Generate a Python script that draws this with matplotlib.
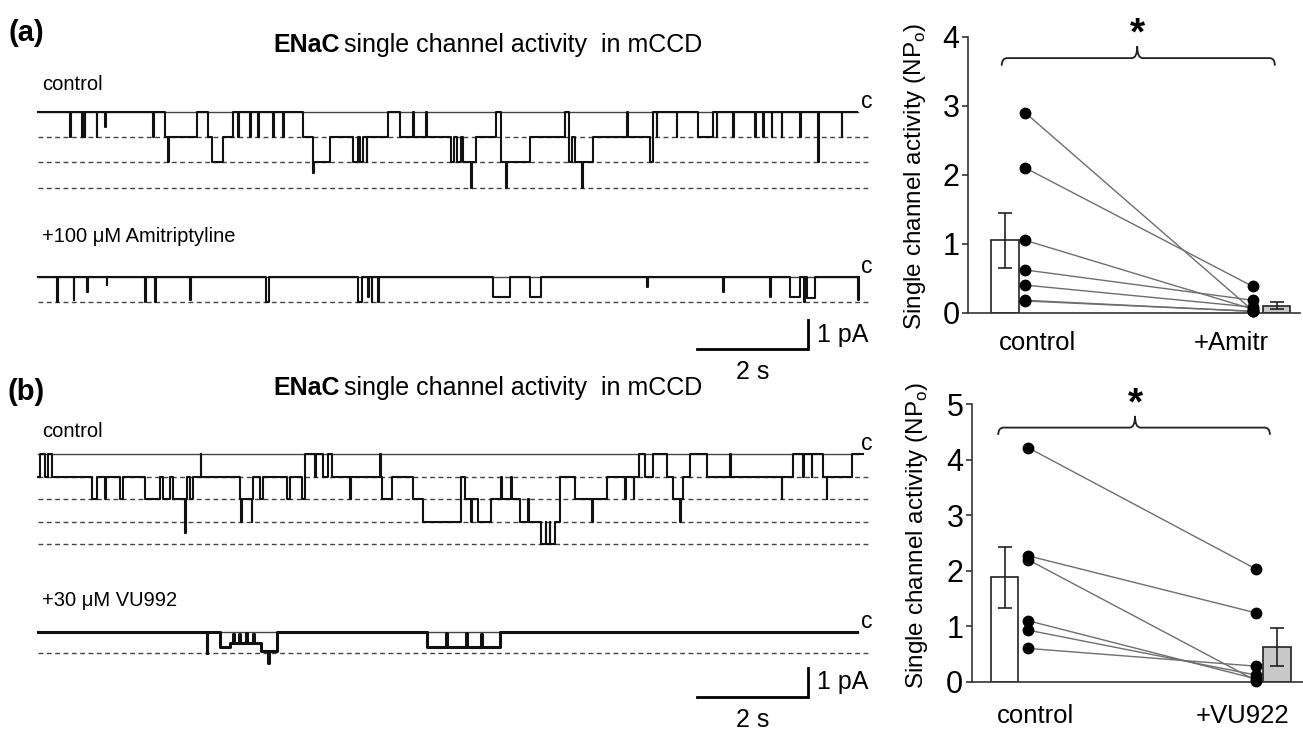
import matplotlib
matplotlib.use("Agg")
import matplotlib.pyplot as plt
import numpy as np
from matplotlib.path import Path
from matplotlib.patches import PathPatch

plt.rcParams["font.family"] = ["Liberation Sans", "DejaVu Sans"]

W, H = 1303, 733

# ---------------- data ----------------
# single-channel traces: step changes (time s, open level) and brief openings (time s, level)
a_ctrl_steps = [
    (0.00, 0), (2.29, 1), (2.86, 0), (3.07, 1), (3.13, 2), (3.34, 1), (3.52, 0),
    (4.78, 1), (4.96, 2), (5.26, 1), (5.68, 2), (5.77, 1), (5.81, 2), (5.86, 1),
    (6.31, 0), (6.52, 1), (7.45, 2), (7.50, 1), (7.55, 2), (7.62, 1), (7.66, 2),
    (7.90, 1), (8.26, 0), (8.35, 2), (8.86, 1), (9.50, 0), (9.56, 2), (9.62, 1),
    (9.68, 2), (10.00, 1), (11.03, 2), (11.09, 0), (11.90, 1), (12.17, 0),
]
a_ctrl_flicks = [
    (0.58, 1), (0.79, 1), (0.84, 1), (1.06, 1), (1.21, 0.6), (2.07, 1),
    (2.35, 2), (3.61, 1), (3.82, 1), (3.97, 1), (4.24, 1), (4.42, 1),
    (4.96, 2.4), (5.92, 2), (6.76, 0), (6.99, 0), (7.81, 3), (8.44, 3),
    (9.80, 3), (10.61, 0), (11.15, 1), (11.51, 1), (12.23, 1), (12.53, 1),
    (12.92, 1), (13.07, 1), (13.22, 1), (13.40, 1), (13.73, 1), (14.06, 2),
    (14.48, 1),
]
a_ctrl_end = 14.75

a_amit_steps = [
    (0.00, 0), (4.10, 1), (4.16, 0), (5.77, 1), (5.83, 0), (8.20, 0.8),
    (8.50, 0), (8.86, 0.8), (9.07, 0), (13.55, 0.8), (13.73, 0),
    (13.85, 0.85), (14.00, 0),
]
a_amit_flicks = [
    (0.34, 1), (0.64, 0.9), (0.88, 0.6), (1.24, 0.3), (1.93, 1), (2.11, 1),
    (2.74, 0.9), (5.95, 0.8), (6.01, 1), (6.13, 1), (10.97, 0.4),
    (12.35, 0.6), (13.19, 0.8), (13.80, 1), (14.78, 0.9),
]
a_amit_end = 14.80

b_ctrl_steps = [
    (0.00, 1), (0.04, 0), (0.13, 1), (0.18, 0), (0.25, 1), (0.97, 2), (1.06, 1),
    (1.48, 2), (1.54, 1), (1.93, 2), (2.20, 1), (2.26, 2), (2.38, 1), (2.44, 2),
    (2.68, 1), (2.74, 2), (2.80, 1), (3.64, 2), (3.88, 1), (4.00, 2), (4.06, 1),
    (4.48, 2), (4.54, 1), (4.75, 2), (4.81, 0), (5.14, 1), (5.23, 0), (5.29, 1),
    (6.19, 2), (6.37, 1), (6.76, 2), (6.94, 3), (7.63, 1), (7.69, 2), (7.93, 3),
    (8.17, 2), (8.68, 3), (9.07, 4), (9.31, 3), (9.41, 1), (9.68, 2), (10.25, 1),
    (10.82, 0), (10.94, 1), (11.09, 0), (11.33, 1), (11.45, 2), (11.63, 1),
    (11.75, 0), (12.05, 1), (13.61, 0), (14.15, 1), (14.66, 0),
]
b_ctrl_flicks = [
    (1.21, 2), (2.65, 3.5), (2.93, 0), (3.66, 3), (3.85, 3), (4.99, 1),
    (5.62, 2), (6.16, 0), (7.81, 3), (8.35, 1), (8.53, 1), (8.83, 2),
    (9.15, 3), (9.22, 3), (9.98, 3), (10.58, 2), (10.73, 2), (11.57, 3),
    (12.47, 0), (13.40, 2), (13.79, 1), (13.94, 1), (14.21, 2),
]
b_ctrl_end = 14.87

b_vu_steps = [
    (0.00, 0), (3.28, 0.7), (3.46, 0.55), (4.02, 0.9), (4.30, 0),
    (7.00, 0.7), (8.32, 0),
]
b_vu_flicks = [
    (3.04, 1), (3.52, 0.1), (3.62, 0.1), (3.75, 0.05), (3.88, 0.1),
    (4.15, 1.5), (7.36, 0.05), (7.71, 0.05), (7.98, 0.1),
]
b_vu_end = 14.75

unit_a = 0.87   # pA per open channel
unit_b = 0.78

# paired NPo values
a_control = [2.9, 2.1, 1.05, 0.62, 0.40, 0.18, 0.17]
a_amitr = [0.03, 0.38, 0.05, 0.18, 0.08, 0.02, 0.02]
a_mean = [1.05, 0.10]
a_sem = [0.40, 0.05]
a_labels = ["control", "+Amitr"]

b_control = [4.22, 2.27, 2.20, 1.10, 0.93, 0.60]
b_vu = [2.03, 1.24, 0.02, 0.05, 0.12, 0.28]
b_mean = [1.88, 0.62]
b_sem = [0.55, 0.34]
b_labels = ["control", "+VU922"]


def fx(px):
    return px / W


def fy(py):
    return 1 - py / H


def build_trace(steps, flicks, t_end, dur=0.012):
    def level_at(t):
        lv = steps[0][1]
        for ts, l in steps:
            if ts <= t:
                lv = l
        return lv

    events = list(steps)
    for t, l in flicks:
        events.append((t, l))
        events.append((t + dur, level_at(t + dur)))
    events.sort(key=lambda e: e[0])
    xs = [e[0] for e in events] + [t_end]
    ys = [e[1] for e in events] + [events[-1][1]]
    return np.array(xs), np.array(ys, dtype=float)


def draw_trace(ax, steps, flicks, t_end, base, unit, n_levels, lw=1.5):
    ax.plot([0, 14.78], [base, base], color="#444444", lw=1.0, zorder=1)
    for k in range(1, n_levels + 1):
        ax.plot([0, 15.0], [base - k * unit] * 2, color="#444444", lw=1.0,
                ls=(0, (3.5, 2.5)), zorder=1)
    xs, ys = build_trace(steps, flicks, t_end)
    ax.plot(xs, base - unit * ys, drawstyle="steps-post", color="#111111",
            lw=lw, zorder=2)
    ax.text(14.82, base + 0.14, "c", fontsize=16.5, ha="left", va="baseline")


def scale_bar(ax, t0, y0):
    ax.plot([t0, t0 + 2, t0 + 2], [y0, y0, y0 + 1], color="black", lw=2.0,
            solid_joinstyle="miter", clip_on=False)
    ax.text(t0 + 2.16, y0 + 0.5, "1 pA", fontsize=18, ha="left", va="center")
    ax.text(t0 + 1, y0 - 0.78, "2 s", fontsize=18, ha="center", va="center")


def title_line(fig, py):
    t1 = fig.text(fx(273), fy(py), "ENaC", fontsize=18, fontweight="bold",
                  ha="left", va="center")
    bb = t1.get_window_extent(renderer=fig.canvas.get_renderer())
    fig.text(fx(bb.x1 + 5), fy(py), "single channel activity  in mCCD",
             fontsize=18, ha="left", va="center")


def bracket(ax, x0, x1, xc, y_top, y_low, y_tip, dx):
    verts = [(x0, y_low), (x0, y_top), (x0 + dx, y_top), (xc - dx, y_top),
             (xc, y_top), (xc, y_tip),
             (xc, y_tip), (xc, y_top), (xc + dx, y_top), (x1 - dx, y_top),
             (x1, y_top), (x1, y_low)]
    codes = [Path.MOVETO, Path.CURVE3, Path.CURVE3, Path.LINETO,
             Path.CURVE3, Path.CURVE3,
             Path.MOVETO, Path.CURVE3, Path.CURVE3, Path.LINETO,
             Path.CURVE3, Path.CURVE3]
    ax.add_patch(PathPatch(Path(verts, codes), fill=False, lw=1.3,
                           edgecolor="#222222", clip_on=False))


def paired_panel(ax, ctrl, treat, mean, sem, xoff, ymax, star_y, br):
    ax.bar([0, 1], mean, width=0.1, color=["white", "#c8c8c8"],
           edgecolor="#222222", linewidth=1.2, zorder=2)
    ax.errorbar([0, 1], mean, yerr=sem, fmt="none", ecolor="#222222",
                elinewidth=1.2, capsize=5, capthick=1.2, zorder=3)
    for c, t in zip(ctrl, treat):
        ax.plot([xoff[0], xoff[1]], [c, t], color="#6e6e6e", lw=1.0, zorder=3,
                clip_on=False)
    ax.plot([xoff[0]] * len(ctrl), ctrl, "o", color="black", ms=7.5,
            zorder=4, clip_on=False)
    ax.plot([xoff[1]] * len(treat), treat, "o", color="black", ms=7.5,
            zorder=4, clip_on=False)
    ax.set_ylim(0, ymax)
    ax.set_yticks(range(ymax + 1))
    ax.set_xticks([])
    for s in ["top", "right"]:
        ax.spines[s].set_visible(False)
    for s in ["left", "bottom"]:
        ax.spines[s].set_linewidth(1.2)
        ax.spines[s].set_color("#333333")
    ax.tick_params(axis="y", direction="out", length=4, width=1.2,
                   labelsize=22, pad=2, color="#333333")
    bracket(ax, *br)
    ax.text(br[2], star_y, "*", fontsize=28, fontweight="bold", ha="center",
            va="baseline", clip_on=False)


fig = plt.figure(figsize=(W / 100, H / 100), dpi=100)

# ---------------- panel (a) traces ----------------
axa = fig.add_axes([fx(30), fy(380), fx(885 - 30), (380 - 92) / H])
axa.set_xlim((30 - 38) / 55.5, (885 - 38) / 55.5)
axa.set_ylim(-(380 - 112) / 29, (112 - 92) / 29)
axa.axis("off")
draw_trace(axa, a_ctrl_steps, a_ctrl_flicks, a_ctrl_end, 0.0, unit_a, 3)
draw_trace(axa, a_amit_steps, a_amit_flicks, a_amit_end, -(277 - 112) / 29,
           unit_a, 1)
scale_bar(axa, (697 - 38) / 55.5, -(349 - 112) / 29)

# ---------------- panel (b) traces ----------------
axb = fig.add_axes([fx(30), fy(728), fx(885 - 30), (728 - 410) / H])
axb.set_xlim((30 - 38) / 55.5, (885 - 38) / 55.5)
axb.set_ylim(-(728 - 454) / 29, (454 - 410) / 29)
axb.axis("off")
draw_trace(axb, b_ctrl_steps, b_ctrl_flicks, b_ctrl_end, 0.0, unit_b, 4)
draw_trace(axb, b_vu_steps, b_vu_flicks, b_vu_end, -(632 - 454) / 29,
           unit_b * 0.92, 1, lw=2.2)
scale_bar(axb, (697 - 38) / 55.5, -(697 - 454) / 29)

# ---------------- labels on the trace side ----------------
fig.text(fx(26), fy(33), "(a)", fontsize=21, fontweight="bold",
         ha="center", va="center")
fig.text(fx(26), fy(392), "(b)", fontsize=21, fontweight="bold",
         ha="center", va="center")
title_line(fig, 45)
title_line(fig, 388)
fig.text(fx(42), fy(85), "control", fontsize=14.5, ha="left", va="center")
fig.text(fx(42), fy(237), "+100 \u03bcM Amitriptyline", fontsize=14.5,
         ha="left", va="center")
fig.text(fx(42), fy(432), "control", fontsize=14.5, ha="left", va="center")
fig.text(fx(42), fy(600), "+30 \u03bcM VU992", fontsize=14.5, ha="left",
         va="center")

# ---------------- paired plots ----------------
ra = fig.add_axes([fx(968), fy(312.7), fx(1300 - 968), (312.7 - 36.7) / H])
ra.set_xlim((968 - 1005) / 271.5, (1300 - 1005) / 271.5)
paired_panel(ra, a_control, a_amitr, a_mean, a_sem, (0.074, 0.913), 4, 3.88,
             (-0.012, 0.994, 0.487, 3.69, 3.58, 3.86, 0.02))

rb = fig.add_axes([fx(971.7), fy(681.7), fx(1303 - 971.7), (681.7 - 404.3) / H])
rb.set_xlim((971.7 - 1004.5) / 272.5, (1303 - 1004.5) / 272.5)
paired_panel(rb, b_control, b_vu, b_mean, b_sem, (0.086, 0.923), 5, 4.82,
             (-0.023, 0.974, 0.479, 4.58, 4.45, 4.79, 0.02))

ylab = "Single channel activity (NP$_{\\mathregular{o}}$)"
fig.text(fx(915), fy(176), ylab, fontsize=17.5, rotation=90, ha="center",
         va="center")
fig.text(fx(917), fy(535), ylab, fontsize=17.5, rotation=90, ha="center",
         va="center")
fig.text(fx(1037), fy(343), a_labels[0], fontsize=18.5, ha="center", va="center")
fig.text(fx(1231), fy(343), a_labels[1], fontsize=18.5, ha="center", va="center")
fig.text(fx(1035), fy(716), b_labels[0], fontsize=18.5, ha="center", va="center")
fig.text(fx(1243), fy(716), b_labels[1], fontsize=18.5, ha="center", va="center")

fig.savefig("out.png", dpi=100)
